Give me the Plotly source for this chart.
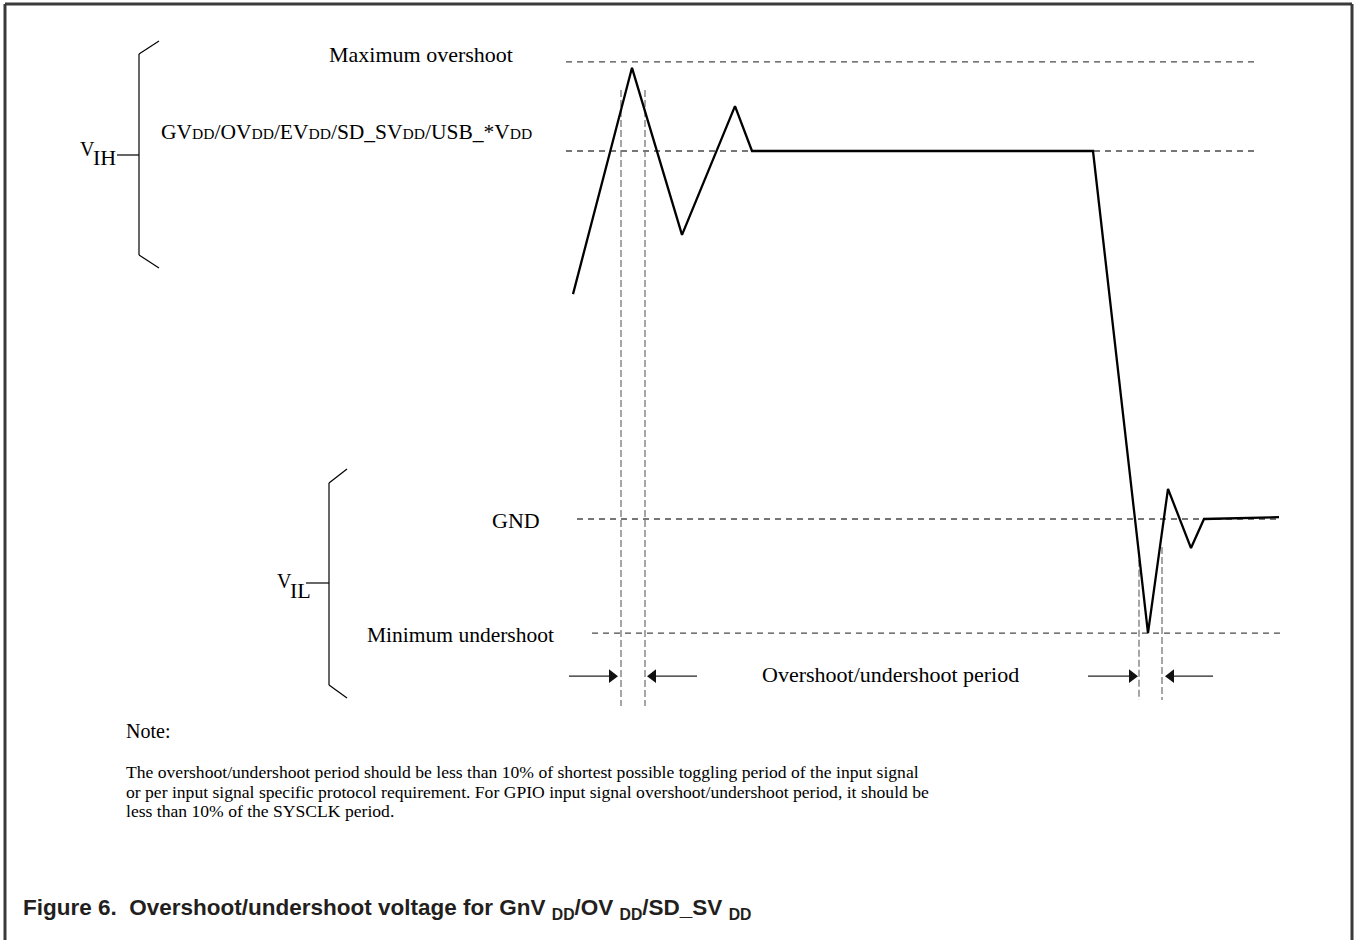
import plotly.graph_objects as go

# ---------------- data ----------------
# time in arbitrary units, voltage normalised (GND = 0, VDD = 1)
wave_t = [0.0, 5.9, 10.9, 16.2, 17.9, 52.0, 57.5, 59.5, 61.8, 63.1, 70.6]
wave_v = [0.611, 1.226, 0.772, 1.122, 1.0, 1.0, -0.31, 0.082, -0.079, 0.0, 0.005]

level_names = ["Maximum overshoot", "VDD", "GND", "Minimum undershoot"]
level_v = [1.242, 1.0, 0.0, -0.31]
level_t0 = [-0.7, -0.7, 0.4, 1.9]
level_t1 = [68.4, 68.5, 70.6, 71.0]

period_t = [4.8, 7.2, 56.6, 58.9]
period_top = [1.166, 1.166, -0.111, -0.076]
period_bottom = [-0.508, -0.508, -0.492, -0.492]

arrow_v = -0.427
arrow_tail_t = [-0.4, 12.4, 51.5, 64.0]
arrow_head_t = [4.5, 7.4, 56.5, 59.2]

note_lines = [
    "The overshoot/undershoot period should be less than 10% of shortest possible toggling period of the input signal",
    "or per input signal specific protocol requirement. For GPIO input signal overshoot/undershoot period, it should be",
    "less than 10% of the SYSCLK period.",
]

W, H = 1354, 940
X_RANGE = [-57.3, 78.1]
Y_RANGE = [(519 - 940) / 368, 519 / 368]
T_PER_PX = (X_RANGE[1] - X_RANGE[0]) / W


def px(x):
    return x / W


def py(y):
    return 1 - y / H


fig = go.Figure()

# level lines
for name, v, t0, t1 in zip(level_names, level_v, level_t0, level_t1):
    fig.add_trace(go.Scatter(x=[t0, t1], y=[v, v], mode="lines",
                             line=dict(color="#4a4a4a", width=1.3, dash="6px,5px"),
                             hoverinfo="skip", showlegend=False, name=name))

# period markers
for t, top, bot in zip(period_t, period_top, period_bottom):
    fig.add_trace(go.Scatter(x=[t, t], y=[top, bot], mode="lines",
                             line=dict(color="#777777", width=1.3, dash="7px,3px"),
                             hoverinfo="skip", showlegend=False))

# waveform
fig.add_trace(go.Scatter(x=wave_t, y=wave_v, mode="lines",
                         line=dict(color="#000000", width=2.3),
                         hoverinfo="skip", showlegend=False))

# period arrows (shaft + filled head)
HEAD = 12
for tt, th in zip(arrow_tail_t, arrow_head_t):
    direction = 1 if th > tt else -1
    fig.add_trace(go.Scatter(x=[tt, th - direction * 2 * T_PER_PX], y=[arrow_v, arrow_v], mode="lines",
                             line=dict(color="#222222", width=1.3),
                             hoverinfo="skip", showlegend=False))
    fig.add_trace(go.Scatter(x=[th - direction * (HEAD / 2) * T_PER_PX], y=[arrow_v], mode="markers",
                             marker=dict(symbol="triangle-right" if direction > 0 else "triangle-left",
                                         size=HEAD, color="#111111", line=dict(width=0)),
                             hoverinfo="skip", showlegend=False))

ann = []
serif = "Liberation Serif, Times New Roman, serif"


def label(text, x, y, size=22, xanchor="left", family=serif, color="#000000"):
    ann.append(dict(x=px(x), y=py(y), xref="paper", yref="paper", text=text,
                    showarrow=False, xanchor=xanchor, yanchor="middle",
                    font=dict(family=family, size=size, color=color)))


label("Maximum overshoot", 421, 54, xanchor="center")
dd = '<span style="font-size:15.5px">DD</span>'
label("GV" + dd + "/OV" + dd + "/EV" + dd + "/SD_SV" + dd + "/USB_*V" + dd, 159, 132, size=21.5)
label("GND", 542, 520, xanchor="right")
label("Minimum undershoot", 365, 635, size=21.5)
label("Overshoot/undershoot period", 890, 674, xanchor="center")
label("V", 78, 149, size=20)
label("IH", 91, 158, size=22)
label("V", 275, 581, size=20)
label("IL", 288, 590, size=22)
label("Note:", 124, 731, size=20)
for i, line in enumerate(note_lines):
    label(line, 124, 772 + i * 19.5, size=17.6)
label("<b>Figure 6.\u00a0 Overshoot/undershoot voltage for GnV <sub>DD</sub>/OV <sub>DD</sub>/SD_SV <sub>DD</sub></b>",
      21, 909, size=22.5, family="Liberation Sans, Arial, sans-serif", color="#231f20")

shapes = []


def seg(x0, y0, x1, y1, color="#000000", width=1.2):
    shapes.append(dict(type="line", xref="paper", yref="paper",
                       x0=px(x0), y0=py(y0), x1=px(x1), y1=py(y1),
                       line=dict(color=color, width=width)))


# frame
seg(5, 4, 5, 940, color="#3a3a3a", width=3)
seg(5, 4, 1352, 4, color="#3a3a3a", width=3)
seg(1352, 4, 1352, 940, color="#3a3a3a", width=3)

# VIH brace
seg(159, 41, 139, 54)
seg(139, 54, 139, 255)
seg(139, 255, 159, 268)
seg(117, 155, 139, 155)
# VIL brace
seg(347, 469, 329, 483)
seg(329, 483, 329, 685)
seg(329, 685, 347, 698)
seg(306, 583, 329, 583)

fig.update_layout(
    width=W, height=H, margin=dict(l=0, r=0, t=0, b=0),
    paper_bgcolor="white", plot_bgcolor="white",
    xaxis=dict(range=X_RANGE, visible=False, fixedrange=True),
    yaxis=dict(range=Y_RANGE, visible=False, fixedrange=True),
    annotations=ann, shapes=shapes, hovermode=False, showlegend=False,
)

fig.write_html("out.html", config={"displayModeBar": False, "staticPlot": True},
               post_script="document.body.style.margin='0';document.body.style.overflow='hidden';")
